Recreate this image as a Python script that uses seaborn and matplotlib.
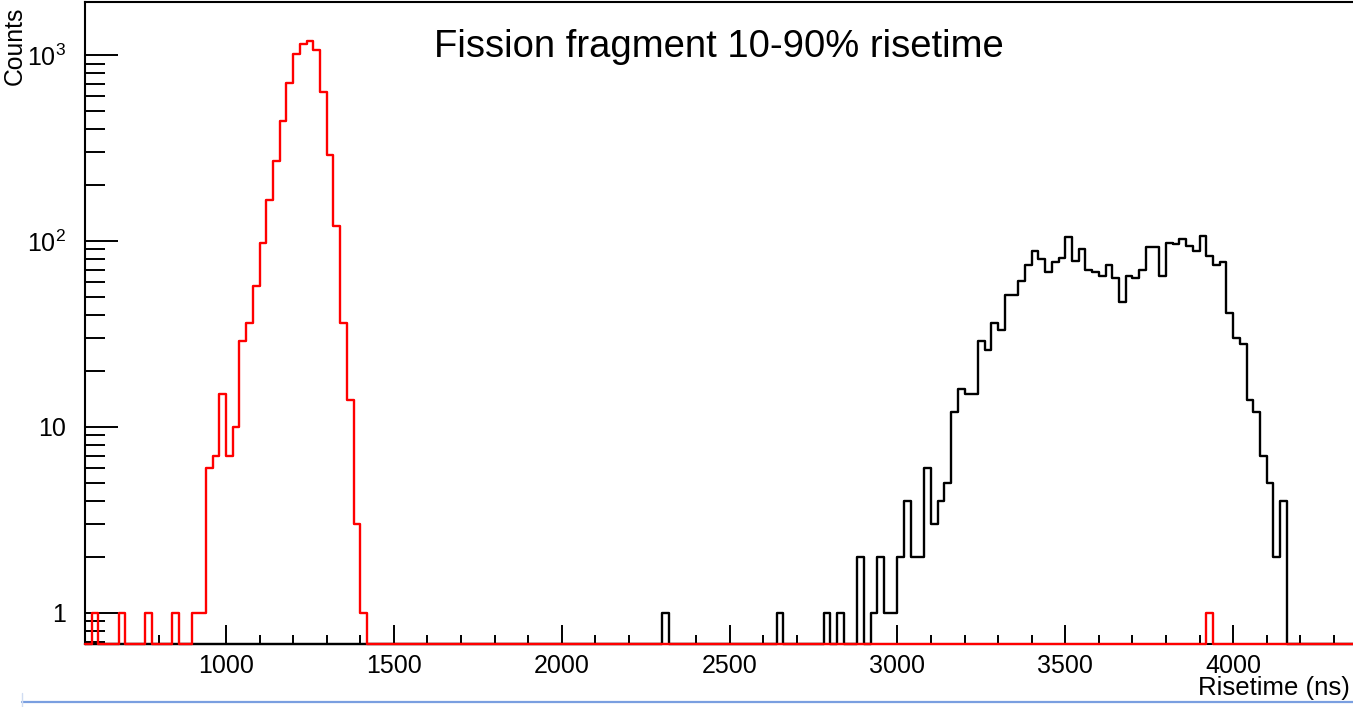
import numpy as np
import pandas as pd
import matplotlib
matplotlib.use("Agg")
import matplotlib.pyplot as plt
from matplotlib.lines import Line2D
from matplotlib.ticker import FixedLocator, FixedFormatter, MultipleLocator, LogLocator, NullFormatter
import seaborn as sns

# ---- histogram data: 20 ns bins of the 10-90% risetime ----
BIN_WIDTH = 20
X_RANGE = (580, 4360)

# red histogram: main peak (counts per bin starting at 900 ns) and isolated entries
red_start = 900
red_counts = [1, 1, 6, 7, 15, 7, 10, 29, 36, 57, 98, 166, 270, 440, 704,
              1012, 1142, 1194, 1064, 632, 290, 120, 36, 14, 3, 1]
red_isolated = {600: 1, 680: 1, 760: 1, 840: 1, 3920: 1}

# black histogram: main double-hump (counts per bin starting at 2880 ns) and isolated entries
black_start = 2880
black_counts = [2, 0, 1, 2, 1, 1, 2, 4, 2, 2, 6, 3, 4, 5, 12, 16, 15, 15, 29, 26,
                36, 33, 51, 51, 61, 74, 88, 80, 68, 77, 81, 105, 78, 90, 70, 68,
                65, 74, 63, 47, 65, 63, 70, 93, 93, 65, 98, 96, 102, 94, 88, 106,
                83, 74, 77, 41, 30, 28, 14, 12, 7, 5, 2, 4]
black_isolated = {2300: 1, 2640: 1, 2780: 1, 2820: 1}

y_ticks = [1, 10, 100, 1000]
y_tick_labels = ["1", "10", "10$^{2}$", "10$^{3}$"]
x_major_step = 500
x_minor_step = 100

Y_LIM = (0.679, 1928)

n_bins = (X_RANGE[1] - X_RANGE[0]) // BIN_WIDTH
centers = X_RANGE[0] + BIN_WIDTH * (np.arange(n_bins) + 0.5)


def binned(start, counts, isolated):
    arr = np.zeros(n_bins)
    i0 = (start - X_RANGE[0]) // BIN_WIDTH
    arr[i0:i0 + len(counts)] = counts
    for lo, c in isolated.items():
        arr[(lo - X_RANGE[0]) // BIN_WIDTH] = c
    return arr


red = binned(red_start, red_counts, red_isolated)
black = binned(black_start, black_counts, black_isolated)

# ---- style ----
sns.set_style("white")
plt.rcParams["font.family"] = ["Liberation Sans", "DejaVu Sans"]
plt.rcParams["mathtext.default"] = "regular"
for key in ["text.color", "axes.labelcolor", "xtick.color", "ytick.color"]:
    plt.rcParams[key] = "black"

W, H = 1353, 707
fig = plt.figure(figsize=(W / 100, H / 100), dpi=100)
fig.patch.set_facecolor("white")
ax_left, ax_right, ax_top, ax_bottom = 85, 1354, 2, 644
ax = fig.add_axes([ax_left / W, (H - ax_bottom) / H,
                   (ax_right - ax_left) / W, (ax_bottom - ax_top) / H])

# empty bins sit on the frame bottom, as on a log-scaled histogram frame
for counts, color in [(black, "black"), (red, "#ff0000")]:
    df = pd.DataFrame({"risetime": centers, "counts": np.maximum(counts, Y_LIM[0])})
    sns.histplot(data=df, x="risetime", weights="counts",
                 binwidth=BIN_WIDTH, binrange=X_RANGE,
                 element="step", fill=False, color=color, linewidth=1.7,
                 zorder=3, clip_on=False, ax=ax)

ax.set_yscale("log")
ax.set_xlim(*X_RANGE)
ax.set_ylim(*Y_LIM)
ax.set_xlabel("")
ax.set_ylabel("")

# axes frame
for side in ["left", "bottom", "top"]:
    ax.spines[side].set_visible(True)
    ax.spines[side].set_color("black")
    ax.spines[side].set_linewidth(1.5)
ax.spines["right"].set_visible(False)

# ticks
ax.xaxis.set_major_locator(MultipleLocator(x_major_step))
ax.xaxis.set_minor_locator(MultipleLocator(x_minor_step))
ax.yaxis.set_major_locator(FixedLocator(y_ticks))
ax.yaxis.set_major_formatter(FixedFormatter(y_tick_labels))
ax.yaxis.set_minor_locator(LogLocator(base=10, subs=np.arange(2, 10) / 1.0, numticks=20))
ax.yaxis.set_minor_formatter(NullFormatter())

ax.tick_params(axis="x", which="major", direction="in", length=13.7, width=1.4,
               pad=7.5, labelsize=18, bottom=True, top=False)
ax.tick_params(axis="x", which="minor", direction="in", length=6.5, width=1.4,
               bottom=True, top=False)
ax.tick_params(axis="y", which="major", direction="in", length=23.8, width=1.4,
               pad=13.5, labelsize=18, left=True, right=False)
ax.tick_params(axis="y", which="minor", direction="in", length=14.4, width=1.4,
               left=True, right=False)
ax.grid(False)

# texts
fig.text(719 / W, 1 - 57 / H, "Fission fragment 10-90% risetime",
         ha="center", va="baseline", fontsize=27.5)
fig.text(15 / W, 1 - 7 / H, "Counts", rotation=90, ha="center", va="top",
         fontsize=17.8)
fig.text(1350 / W, 1 - 695 / H, "Risetime (ns)", ha="right", va="baseline",
         fontsize=18.5)

# selection frame along the lower edge
fig.add_artist(Line2D([22 / W, 1.0], [1 - 702 / H] * 2, color="#7a9fe0", lw=1.6))
fig.add_artist(Line2D([22 / W] * 2, [0, 1 - 693 / H], color="#d0dcf2", lw=1.0))

fig.savefig("out.png", dpi=100, facecolor="white")
